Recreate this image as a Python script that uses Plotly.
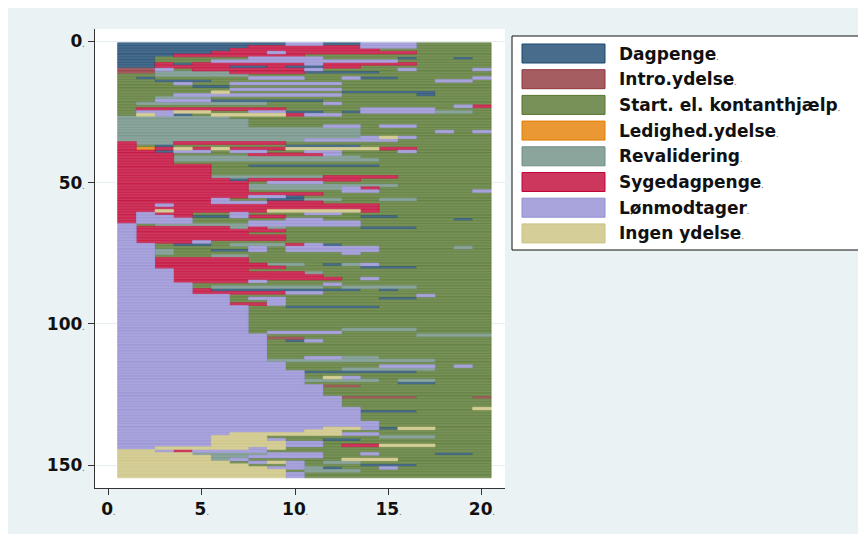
import plotly.graph_objects as go

# ---------------- data ----------------
state_codes = ["D", "I", "S", "L", "R", "Y", "W", "N"]
state_labels = ["Dagpenge", "Intro.ydelse", "Start. el. kontanthjælp", "Ledighed.ydelse",
                "Revalidering", "Sygedagpenge", "Lønmodtager", "Ingen ydelse"]
state_fill = ["#486C8C", "#A65D62", "#779159", "#E99833", "#8BA59D", "#CD375D", "#A9A4DB", "#D5CE98"]
state_line = ["#1A476F", "#90353B", "#55752F", "#E37E00", "#6E8E84", "#C10534", "#938DD2", "#CAC27E"]

time_ticks = [0, 5, 10, 15, 20]
row_ticks = [0, 50, 100, 150]

# one string per sequence (20 months), grouped by first state
seq_dagpenge = [
    "DDDDDDDDDWWDDWWWSSSS", "DDDDDDDYYYYYYWWWSSSS", "DDDDDDYYYYYYYYSSSSSS",
    "DDDDDYYYWYYYYYYYSSSS", "DDDYYYYYYYSSSSSSSSSS", "DDSSSSSWWWWSSSSDSSDS",
    "DDSSSWWWWWWWWWWSSSSS", "DDYDYYYYYYWYYYYYSSSS", "DDYYYYDDYDDYYSSSSSSS",
]
seq_intro = [
    "IIWSYYYYYYWSSSSWSSSW", "IIRRRRYYYYDDDDSSSSSS",
]
seq_start = [
    "SSRRRRRSSSSSSSSSSSSS", "SDSSSSSWWWSSWDDSSSSW", "SSDDDSSSSSSSSSSSSWWS",
    "SSSWSSWWWWWWSSSSSSSS", "SSSSDDSSSSSSSSSSSSSS", "SSSSSSWWWWWWSSSSSSSS",
    "SSSSSNSSSSSSDDDDDSSS", "SSSWWWWWWWWWSSSSDSSS", "SSRRRSSSSSSSSSSSSSSS",
    "SSWWWDDDDDDSSSSSSSSS", "SRRRRRRRSSSWSSSSSSSS", "SSSSSSSSSSSSSSSSSSWY",
    "SYYYYYYYYSSSSWWWWSSS", "SWWNNSSWWDDSDWWWWRRS", "SNWDSNNNNYWWSSSSSSSS",
]
seq_reval = [
    "RRRRRRSSSSSSSSSSSSSS", "RRRRRRRSSSSSSSSSSSSS", "RRRRRRRSSSSSSSSSSSSS",
    "RRRRRRRSSSSWWSWWSSSS", "RRRRRRRRRRRRRSSSSSSS", "RRRRRRRRRRRRRSSSSWSW",
    "RRRRRRRRRRRRRSSSSSSS", "RRRRRRRRRRRRRWNWSSSS", "RRRRRRRRRRWWWWWSSSSS",
]
seq_syge = [
    "YRRYYYYYYSSSSSSSSSSS", "YSDSSSSSSDDDDSSSSSSS", "YLYNYNYYYNNNNNYYSSSS",
    "YYDWWSWWSSWWSSSWSSSS", "YYYSSSSYYYYWSSSSSSSS", "YYYRRRRRRRRRRSSSSSSS",
    "YYYRRRRRRRRRRRSSSSSS", "YYYSSSSSSSSSSSSSSSSS", "YYYYYSSDDDDDDDSSSSSS",
    "YYYYYSSSSSSSSSSSSSSS", "YYYYYSSSSSSSSSSSSSSS", "YYYYYSSSSSSSSSSSSSSS",
    "YYYYYRRRRRRYYYYSSSSS", "YYYYYYDYYYYYYSSSSSSS", "YYYYYYYSWWWSSSSSSSSS",
    "YYYYYYYRRRRRRRRSSSSS", "YYYYYYYRRRRRWYSSSSSS", "YYYYYYYSSSSSWWSSSSSW",
    "YYYYYYYYYYYSSSSSSSSS", "YYYYYYYWWDSSSSSSSSSS", "YYYYYWSSDDRRSSRRSSSS",
    "YYYYYWWWYYYSSSSSSSSS", "YYWYYYYYYYYYYYSSSSSS", "YYYYYYYYYYYYYYSSSSSS",
    "YYNYYYYYNNNNNYSSSSSS", "YWYYSSWSSSWWSSSSSSSS", "YWWYDDWYYSSSSDDSSSSS",
    "YWWWSSSSSWWSSSSSSSDS", "YWWWSSSWWWWWWSSSSSSS",
]
seq_loen = [
    "WSRRRRRWWWWWWSSSSSSS", "WYYYYYRYRSSSSDDDSSSS", "WYYYYYYYYSSSSSSSSSSS",
    "WYYYYYYSSSSSSSSSSSSS", "WYYYYYYYYSSSSSSSSSSS", "WYYYYYYYYSSSSSSSSSSS",
    "WYYYWSSSSSSSSSSSSSSS", "WWSDDSRRRYWDSSSSSSSS", "WWSSSSSWSWWWWWSSSSRS",
    "WWRSSDDWSWWWWWSSSSSS", "WWRSSSSSSSSSWSSSSSSS", "WWSSSRRSSSSSSSSSSSSS",
    "WWYYYYYSSSSSSSSSSSSS", "WWYYYYYSSSSSSSSSSSSS", "WWYYYYYYRRSDRWSSSSSS",
    "WWYYYYYYYSSSSDDDSSSS", "WWWYYYYSSSSSSSSSSSSS", "WWWYYYYYYYRSSSSSSSSS",
    "WWWYYYYYYYYSSSSSSSSS", "WWWYYYYYYYYYSWSSSSSS", "WWWYYYYWSSSSSSSSSSSS",
    "WWWWSSSSSSSWSSSSSSSS", "WWWWSRRRRRRSRRRRSSSS", "WWWWYDDDDDDDDSDSSSSS",
    "WWWWYYYYYWWSSSSSSSSS", "WWWWWWSSSSSSSSSSWSSS", "WWWWWWSWWSSSSSDDSSSS",
    "WWWWWWSSWSSSSSSSSSSS", "WWWWWWYYWSSSSSSSSSSS", "WWWWWWWSSDDDDDSSSSSS",
    "WWWWWWWSSSSSSSSSSSSS", "WWWWWWWSSSSSSSSSSSSS", "WWWWWWWSSSSSSSSSSSSS",
    "WWWWWWWSSSSSSSSSSSSS", "WWWWWWWSSSSSSSSSSSSS", "WWWWWWWSSSSSSSSSSSSS",
    "WWWWWWWSSSSSSSSSSSSS", "WWWWWWWSSSSSRRRRSSSS", "WWWWWWWSWWWWSSSSSSSS",
    "WWWWWWWWSSSSSSSSRRRR", "WWWWWWWWIISSSSSSSSSS", "WWWWWWWWSDWSSSSSSSSS",
    "WWWWWWWWSSSSSSSSSSSS", "WWWWWWWWSSSSSSSSSSSS", "WWWWWWWWSSSSSSSSSSSS",
    "WWWWWWWWSSSSSSSSSSSS", "WWWWWWWWSSSSSSSSSSSS", "WWWWWWWWSSWWRRSSSSSS",
    "WWWWWWWWRRRRRRRRRSSS", "WWWWWWWWWSSSSSSSSSSS", "WWWWWWWWWSSSSSWWWSWS",
    "WWWWWWWWWSSSRRRRRSSS", "WWWWWWWWWWDDDDDDSSSS", "WWWWWWWWWWSSSSSSSSSS",
    "WWWWWWWWWWSNWSSSSSSS", "WWWWWWWWWWRRRRSRRSSS", "WWWWWWWWWWSSSSSDDSSS",
    "WWWWWWWWWWWIISSSSSSS", "WWWWWWWWWWWSSSSSSSSS", "WWWWWWWWWWWSSSSSSSSS",
    "WWWWWWWWWWWSSSSSSSSS", "WWWWWWWWWWWWIIIISSSI", "WWWWWWWWWWWWSSSSSSSS",
    "WWWWWWWWWWWWSSSSSSSS", "WWWWWWWWWWWWSSSSSSSS", "WWWWWWWWWWWWWSSSSSSN",
    "WWWWWWWWWWWWWDDDSSSS", "WWWWWWWWWWWWWSSSSSSS", "WWWWWWWWWWWWWSSSSSSS",
    "WWWWWWWWWWWWWSSSSSSS", "WWWWWWWWWWWWWWSSSSSS", "WWWWWWWWWWWWWWSSSSSS",
    "WWWWWWWWWWWNNWDNNSSS", "WWWWWWWWWWNNSSSSSSSS", "WWWWWWNNNNNNWWSSSSSS",
    "WWWWWNNNSSSSSSRRRSSS", "WWWWWNNNWSSDDSSSSSSS", "WWWWWNNNNWWSSSSSSSSS",
    "WWWWWNNNNWWSYYNNNSSS", "WWNNNNNWNSSSSSSSSSSS",
]
seq_ingen = [
    "NNWYWWWWSSSSSSSSSSSS", "NNNNRRRRWWWSSWSSSDDS", "NNNNNRRWWWWSSSSSSSSS",
    "NNNNNRWSSSSSNNNSSSSS", "NNNNNNSWNWSRRSSSSSSS", "NNNNNNNSSWSSSDDDSSSS",
    "NNNNNNNNWWRDSSWSSSSS", "NNNNNNNNNSRRRSSSSSSS", "NNNNNNNNNWSSSSSSSSSS",
    "NNNNNNNNNWSSSSSSSSSS",
]

sequences = seq_dagpenge + seq_intro + seq_start + seq_reval + seq_syge + seq_loen + seq_ingen

# ---------------- runs per state ----------------
runs = {c: {"y": [], "base": [], "len": []} for c in state_codes}
for r, seq in enumerate(sequences, start=1):
    t = 0
    while t < len(seq):
        c = seq[t]
        k = t
        while k < len(seq) and seq[k] == c:
            k += 1
        runs[c]["y"].append(r)
        runs[c]["base"].append(t + 0.5)
        runs[c]["len"].append(k - t)
        t = k

fig = go.Figure()
for code, lab, fc, lc in zip(state_codes, state_labels, state_fill, state_line):
    d = runs[code]
    if not d["y"]:
        continue
    fig.add_trace(go.Bar(
        orientation="h", y=d["y"], x=d["len"], base=d["base"], width=1.0,
        name=lab, marker=dict(color=fc, line=dict(color=lc, width=0.5)),
        showlegend=False, hoverinfo="skip"))

# ---------------- layout ----------------
W, H = 866, 534
OFF = 8  # page body margin
ML, MT = 95 - OFF, 29 - OFF
PW, PH = 410, 459
MR, MB = W - ML - PW, H - MT - PH


def px_x(px):
    return (px - OFF - ML) / PW


def px_y(py):
    return 1 - (py - OFF - MT) / PH


dot = "<span style='font-size:6px;color:#777'>.</span>"
FONT = dict(family="DejaVu Sans", size=17, color="#111111", weight="bold")

fig.update_layout(
    width=W, height=H,
    margin=dict(l=ML, r=MR, t=MT, b=MB, pad=0),
    paper_bgcolor="#EAF2F3", plot_bgcolor="white",
    barmode="overlay", showlegend=False,
    xaxis=dict(range=[-0.71, 21.24], tickvals=time_ticks,
               ticktext=[f"{v}{dot}" for v in time_ticks],
               ticks="outside", ticklen=6, tickcolor="#333", tickwidth=1,
               showline=True, linecolor="#333", linewidth=1,
               showgrid=False, zeroline=False, tickfont=FONT),
    yaxis=dict(range=[158.1, -4.35], tickvals=row_ticks,
               ticktext=[f"{v}{dot}" for v in row_ticks],
               ticks="outside", ticklen=6, tickcolor="#333", tickwidth=1,
               showline=True, linecolor="#333", linewidth=1,
               showgrid=True, gridcolor="#E6EEF1", gridwidth=1,
               zeroline=False, tickfont=FONT),
)

# ---------------- legend (drawn) ----------------
shapes = [dict(type="rect", xref="paper", yref="paper",
               x0=px_x(512), x1=px_x(862), y0=px_y(250), y1=px_y(36),
               fillcolor="white", line=dict(color="#111", width=1), layer="above")]
annotations = []
pitch = 25.7
for i, (lab, fc, lc) in enumerate(zip(state_labels, state_fill, state_line)):
    top = 44 + i * pitch
    shapes.append(dict(type="rect", xref="paper", yref="paper",
                       x0=px_x(522), x1=px_x(605), y0=px_y(top + 19), y1=px_y(top),
                       fillcolor=fc, line=dict(color=lc, width=1), layer="above"))
    annotations.append(dict(xref="paper", yref="paper", x=px_x(617), y=px_y(top + 9.5),
                            xanchor="left", yanchor="middle", showarrow=False,
                            text=lab + dot, font=FONT))
fig.update_layout(shapes=shapes, annotations=annotations)

fig.write_html("out.html")
